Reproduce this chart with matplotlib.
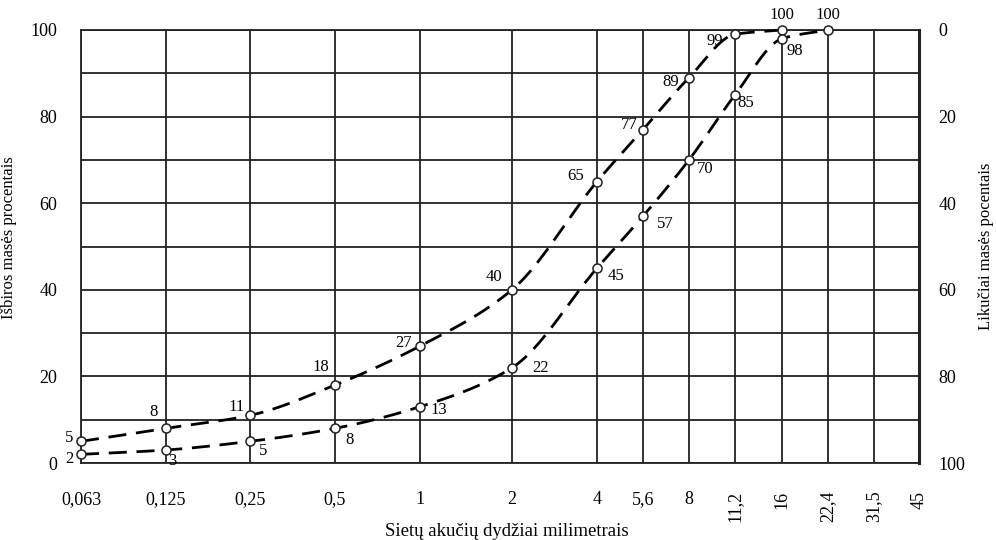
import numpy as np
import matplotlib
matplotlib.use("Agg")
import matplotlib.pyplot as plt

plt.rcParams['font.family'] = ['Liberation Serif', 'DejaVu Serif']

# sieve sizes (mm) shown on the x axis
sieve_sizes = [0.063, 0.125, 0.25, 0.5, 1, 2, 4, 5.6, 8, 11.2, 16, 22.4, 31.5, 45]
sieve_labels = ["0,063", "0,125", "0,25", "0,5", "1", "2", "4", "5,6", "8",
                "11,2", "16", "22,4", "31,5", "45"]

# upper grading curve (passing, %)
upper_sizes = [0.063, 0.125, 0.25, 0.5, 1, 2, 4, 5.6, 8, 11.2, 16]
upper_vals = [5, 8, 11, 18, 27, 40, 65, 77, 89, 99, 100]

# lower grading curve (passing, %)
lower_sizes = [0.063, 0.125, 0.25, 0.5, 1, 2, 4, 5.6, 8, 11.2, 16, 22.4]
lower_vals = [2, 3, 5, 8, 13, 22, 45, 57, 70, 85, 98, 100]

# the sheet spaces the sieves a bit unevenly, so map log(size) to grid position
grid_pos = [81, 166, 250, 335, 420, 512, 597, 643, 689, 735, 782, 828, 874, 919]
log_sizes = np.log(sieve_sizes)


def forward(x):
    x = np.maximum(np.asarray(x, dtype=float), 1e-6)
    return np.interp(np.log(x), log_sizes, grid_pos)


def inverse(p):
    return np.exp(np.interp(p, grid_pos, log_sizes))


def smooth(xs, ys, n=40):
    # monotone cubic (Fritsch-Carlson) through the points, in grid space
    xp = forward(xs)
    yp = np.asarray(ys, dtype=float)
    h = np.diff(xp)
    d = np.diff(yp) / h
    m = np.zeros_like(yp)
    m[0], m[-1] = d[0], d[-1]
    for k in range(1, len(yp) - 1):
        if d[k - 1] * d[k] > 0:
            w1 = 2 * h[k] + h[k - 1]
            w2 = h[k] + 2 * h[k - 1]
            m[k] = (w1 + w2) / (w1 / d[k - 1] + w2 / d[k])
    px, py = [], []
    for k in range(len(h)):
        t = np.linspace(0, 1, n)
        h00 = 2 * t**3 - 3 * t**2 + 1
        h10 = t**3 - 2 * t**2 + t
        h01 = -2 * t**3 + 3 * t**2
        h11 = t**3 - t**2
        px.append(xp[k] + t * h[k])
        py.append(h00 * yp[k] + h10 * h[k] * m[k] + h01 * yp[k + 1] + h11 * h[k] * m[k + 1])
    return inverse(np.concatenate(px)), np.concatenate(py)


fig = plt.figure(figsize=(9.96, 5.40), dpi=100)
ax = fig.add_axes([81 / 996, 1 - 463 / 540, 838 / 996, 433 / 540])
ax.set_xscale('function', functions=(forward, inverse))
ax.set_xlim(0.063, 45)
ax.set_ylim(0, 100)

ax.set_xticks(sieve_sizes)
ax.set_xticks([], minor=True)
ax.set_xticklabels(sieve_labels)
for lab in ax.get_xticklabels()[9:]:
    lab.set_rotation(90)
    lab.set_va('top')
ax.set_yticks(np.arange(0, 101, 10))
ax.set_yticklabels([str(v) if v % 20 == 0 else "" for v in range(0, 101, 10)])
ax.tick_params(axis='both', length=0, labelsize=13)
ax.tick_params(axis='x', pad=20)
ax.tick_params(axis='y', pad=17)
ax.grid(True, color='#222222', linewidth=1.3)
for s in ax.spines.values():
    s.set_color('#222222')
    s.set_linewidth(1.3)
ax.spines['right'].set_linewidth(2.2)
ax.set_axisbelow(True)

ax.set_xlabel("Sietų akučių dydžiai milimetrais", fontsize=13.5)
ax.xaxis.set_label_coords(0.508, -0.139)
ax.set_ylabel("Išbiros masės procentais", fontsize=12)
ax.yaxis.set_label_coords(-0.076, 0.52)

ax2 = ax.twinx()
ax2.set_ylim(100, 0)
ax2.set_yticks(np.arange(0, 101, 20))
ax2.tick_params(axis='y', length=0, labelsize=13, pad=14)
for s in ax2.spines.values():
    s.set_visible(False)
ax2.set_ylabel("Likučiai masės pocentais", fontsize=12)
ax2.yaxis.set_label_coords(1.070, 0.50)

dash = (0, (6.5, 3.5))
for xs, ys in [(upper_sizes, upper_vals), (lower_sizes, lower_vals)]:
    cx, cy = smooth(xs, ys)
    ax.plot(cx, cy, color='black', linewidth=2.0, linestyle=dash, zorder=3,
            clip_on=False)
    ax.plot(xs, ys, linestyle='none', marker='o', markersize=6.5,
            markerfacecolor='white', markeredgecolor='#222222',
            markeredgewidth=1.1, zorder=4, clip_on=False)

upper_offsets = [(-12, 3), (-12, 16), (-13, 8), (-14, 18), (-16, 3), (-18, 13),
                 (-21, 6), (-14, 5), (-18, -4), (-20, -7), (0, 15)]
lower_offsets = [(-12, -5), (6, -11), (13, -10), (15, -12), (19, -3), (28, 0),
                 (19, -8), (22, -8), (16, -9), (11, -8), (13, -12), (0, 15)]

for xs, ys, offs in [(upper_sizes, upper_vals, upper_offsets),
                     (lower_sizes, lower_vals, lower_offsets)]:
    for x, y, (dx, dy) in zip(xs, ys, offs):
        ax.annotate(str(y), (x, y), xytext=(dx, dy), textcoords='offset pixels',
                    ha='center', va='center', fontsize=12, zorder=5,
                    annotation_clip=False)

fig.savefig("out.png", dpi=100, facecolor='white')
